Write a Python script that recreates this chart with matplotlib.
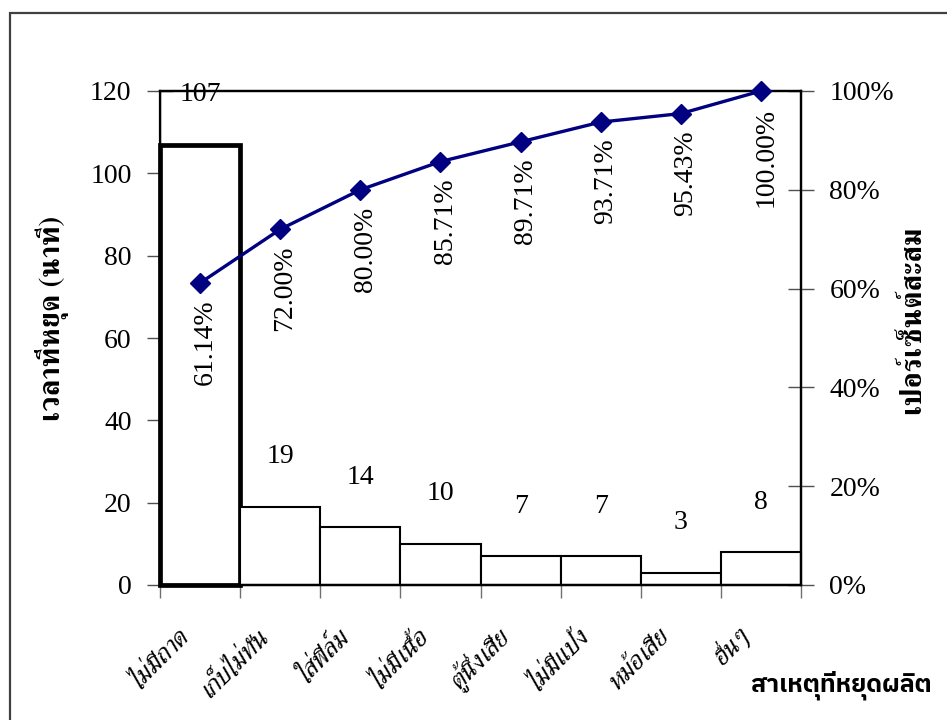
import numpy as np
import matplotlib
matplotlib.use("Agg")
import matplotlib.pyplot as plt
from matplotlib.patches import Rectangle
from matplotlib.ticker import PercentFormatter
from matplotlib.transforms import ScaledTranslation

# data
causes = ["ไม่มีถาด", "เก็บไม่ทัน", "ใส่ฟิล์ม", "ไม่มีเนื้อ",
          "ตู้นึ่งเสีย", "ไม่มีแป้ง", "หม้อเสีย", "อื่นๆ"]
minutes = [107, 19, 14, 10, 7, 7, 3, 8]
cum_pct = [61.14, 72.00, 80.00, 85.71, 89.71, 93.71, 95.43, 100.00]
min_ticks = [0, 20, 40, 60, 80, 100, 120]
pct_ticks = [0, 20, 40, 60, 80, 100]

ylabel_left = "เวลาที่หยุด (นาที)"
ylabel_right = "เปอร์เซ็นต์สะสม"
xlabel = "สาเหตุที่หยุดผลิต"

NUM_FONT = ["Liberation Serif", "FreeSerif", "DejaVu Serif"]
THAI_FONT = ["FreeSerif", "DejaVu Sans"]
plt.rcParams["font.family"] = NUM_FONT
FS = 20

W, H = 947, 720
fig = plt.figure(figsize=(W / 100, H / 100), dpi=100)

# outer frame (right and bottom sides fall outside the picture)
fig.add_artist(Rectangle((10 / W, -0.2), 1.5, 1 - 13 / H + 0.2,
                         transform=fig.transFigure, fill=False,
                         edgecolor="#404040", linewidth=1.6))

ax = fig.add_axes([160 / W, 1 - 585 / H, (801 - 160) / W, (585 - 91) / H])
ax2 = ax.twinx()

x = np.arange(len(causes))

# bars
bars = ax.bar(x, minutes, width=1.0, color="white", edgecolor="black",
              linewidth=1.5, zorder=2, clip_on=False)
bars[0].set_linewidth(3.4)

for i, v in enumerate(minutes):
    ax.annotate(str(v), xy=(i, v), xytext=(0, 36), textcoords="offset points",
                ha="center", va="center", fontsize=FS)

ax.set_xlim(-0.5, len(causes) - 0.5)
ax.set_ylim(0, 120)
ax.set_yticks(min_ticks)
ax.tick_params(axis="y", direction="inout", length=19, width=1,
               color="#505050", pad=11, labelsize=FS)

# x ticks at category borders, labels at centres
ax.set_xticks(np.arange(len(causes) + 1) - 0.5)
ax.set_xticklabels([])
ax.tick_params(axis="x", which="major", direction="out", length=9,
               width=1, color="#707070")
ax.set_xticks(x, minor=True)
ax.set_xticklabels(causes, minor=True, rotation=45, ha="right",
                   va="center", rotation_mode="anchor",
                   family=THAI_FONT, style="italic", fontsize=19)
ax.tick_params(axis="x", which="minor", length=0, pad=34)
shift = ScaledTranslation(-15 / 100, 0, fig.dpi_scale_trans)
for lbl in ax.get_xticklabels(minor=True):
    lbl.set_transform(lbl.get_transform() + shift)

# cumulative line
ax2.plot(x, cum_pct, color="#000080", linewidth=2.4, marker="D",
         markersize=10.5, clip_on=False, zorder=5)
for i, v in enumerate(cum_pct):
    ax2.annotate(f"{v:.2f}%", xy=(i, v), xytext=(3.5, -12),
                 textcoords="offset points", rotation=90,
                 ha="center", va="top", fontsize=FS)

ax2.set_ylim(0, 100)
ax2.set_yticks(pct_ticks)
ax2.yaxis.set_major_formatter(PercentFormatter(xmax=100, decimals=0))
ax2.tick_params(axis="y", direction="inout", length=19, width=1,
                color="#505050", pad=11, labelsize=FS)

for a in (ax, ax2):
    for s in a.spines.values():
        s.set_linewidth(1.6)
        s.set_color("black")
ax.spines["left"].set_linewidth(1.0)

fig.text(52 / W, 1 - 318 / H, ylabel_left, rotation=90, ha="center",
         va="center", family=THAI_FONT, fontweight="bold", fontsize=21)
fig.text(913 / W, 1 - 320 / H, ylabel_right, rotation=90, ha="center",
         va="center", family=THAI_FONT, fontweight="bold", fontsize=21)
fig.text(750 / W, 1 - 692 / H, xlabel, ha="left", va="baseline",
         family=["IBM Plex Sans Thai", "Noto Sans Thai", "DejaVu Sans"],
         fontweight="bold", fontsize=18)

fig.savefig("out.png", dpi=100)
